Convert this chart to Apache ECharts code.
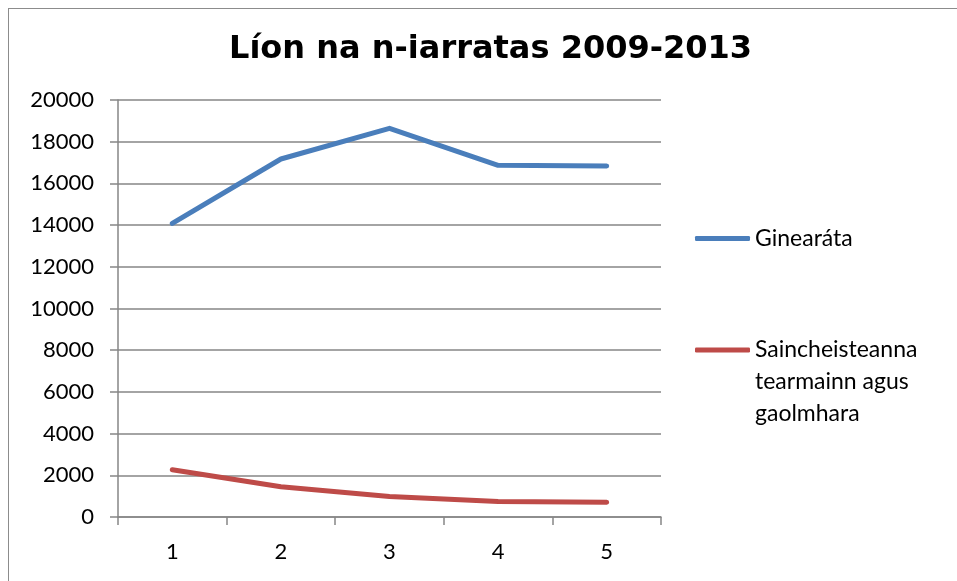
<!DOCTYPE html>
<html>
<head>
<meta charset="utf-8">
<script src="https://cdn.jsdelivr.net/npm/echarts@6/dist/echarts.min.js"></script>
<style>
  html, body { margin: 0; padding: 0; background: #fff; }
  #frame { position: absolute; left: 8px; top: 8px; width: 1200px; height: 1200px; border: 1.5px solid #8c8c8c; }
  #chart { position: absolute; left: 0; top: 0; width: 957px; height: 581px; }
</style>
</head>
<body>
<div id="frame"></div>
<div id="chart"></div>
<script>
// 数据
const categories = ['1', '2', '3', '4', '5']
const generalValues = [14080, 17170, 18640, 16870, 16840]
const termValues = [2270, 1450, 980, 740, 710]
const seriesNames = ['Ginearáta', 'Saincheisteanna tearmainn agus gaolmhara']

const chart = echarts.init(document.getElementById('chart'))

const labelFont = 'Lato, "Open Sans", sans-serif'

const option = {
  backgroundColor: 'transparent',
  animation: false,
  title: {
    text: 'Líon na n-iarratas 2009-2013',
    left: 224,
    top: 29,
    textStyle: {
      fontFamily: '"DejaVu Sans"',
      fontWeight: 'bold',
      fontSize: 32,
      color: '#000'
    }
  },
  legend: [
    {
      data: [seriesNames[0]],
      left: 690,
      top: 222,
      icon: 'roundRect',
      itemWidth: 55,
      itemHeight: 5,
      itemGap: 0,
      textStyle: { fontFamily: labelFont, fontSize: 23, color: '#000' }
    },
    {
      data: [seriesNames[1]],
      left: 690,
      top: 265,
      icon: 'roundRect',
      itemWidth: 55,
      itemHeight: 5,
      // 两行空行让图标对齐第一行文字
      formatter: () => '\n\nSaincheisteanna\ntearmainn agus\ngaolmhara',
      textStyle: {
        fontFamily: labelFont, fontSize: 23, color: '#000',
        lineHeight: 32
      }
    }
  ],
  grid: {
    left: 118,
    right: 296,
    top: 100,
    bottom: 64,
    containLabel: false
  },
  xAxis: {
    type: 'category',
    data: categories,
    boundaryGap: true,
    axisLine: { lineStyle: { color: '#868686', width: 1.5 } },
    axisTick: { show: true, length: 8, lineStyle: { color: '#868686', width: 1.5 } },
    axisLabel: { color: '#000', fontSize: 22, fontFamily: labelFont, margin: 24 }
  },
  yAxis: {
    type: 'value',
    min: 0,
    max: 20000,
    interval: 2000,
    axisLine: { show: true, lineStyle: { color: '#868686', width: 1.5 } },
    axisTick: { show: true, length: 8, lineStyle: { color: '#868686', width: 1.5 } },
    splitLine: { show: true, lineStyle: { color: '#868686', width: 1.5 } },
    axisLabel: {
      color: '#000', fontSize: 22, fontFamily: labelFont, margin: 24,
      formatter: v => String(v)
    }
  },
  series: [
    {
      name: seriesNames[0],
      type: 'line',
      data: generalValues,
      symbol: 'none',
      lineStyle: { color: '#4a7ebb', width: 5, cap: 'round', join: 'round' },
      itemStyle: { color: '#4a7ebb' }
    },
    {
      name: seriesNames[1],
      type: 'line',
      data: termValues,
      symbol: 'none',
      lineStyle: { color: '#be4b48', width: 5, cap: 'round', join: 'round' },
      itemStyle: { color: '#be4b48' }
    }
  ]
}

chart.setOption(option)
</script>
</body>
</html>
